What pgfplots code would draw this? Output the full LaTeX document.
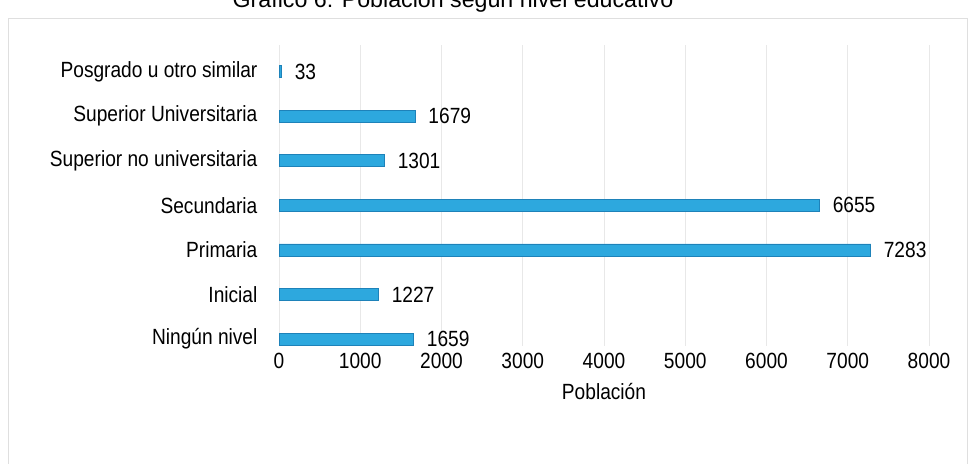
\documentclass[border=0pt]{standalone}
\usepackage{fontspec}
\setmainfont{Liberation Sans}
\newfontfamily\narrow[FakeStretch=0.87]{Liberation Sans}
\usepackage{pgfplots}
\pgfplotsset{compat=1.18}
\definecolor{barfill}{RGB}{45,168,222}
\definecolor{baredge}{RGB}{30,130,185}
\begin{document}
\begin{tikzpicture}
\useasboundingbox (0pt,0pt) rectangle (488.5pt,231.5pt);
\draw[gray!25] (4pt,-5pt) rectangle (483.5pt,222.5pt);
\node[anchor=base,font=\fontsize{11.6}{13}\selectfont] at (226.5pt,228pt) {Gráfico 6: Población según nivel educativo};
\begin{axis}[
  at={(139.5pt,58.65pt)}, anchor=south west,
  scale only axis, width=325pt, height=150.35pt,
  xbar, bar width=6pt,
  xmin=0, xmax=8000, ymin=-0.15, ymax=6.6,
  xtick={0,1000,...,8000},
  ytick={0,...,6},
  yticklabels={Ningún nivel,Inicial,Primaria,Secundaria,Superior no universitaria,Superior Universitaria,Posgrado u otro similar},
  /pgf/number format/1000 sep={},
  /pgf/number format/assume math mode=true,
  axis line style={draw=none},
  tick style={draw=none},
  xmajorgrids, grid style={gray!18},
  ticklabel style={font=\narrow\fontsize{11}{13}\selectfont},
  yticklabel style={xshift=-3pt},
  xticklabel style={yshift=0pt},
  xlabel={Población},
  xlabel style={font=\narrow\fontsize{11}{13}\selectfont, yshift=-0.5pt},
  nodes near coords,
  nodes near coords style={font=\narrow\fontsize{11}{13}\selectfont, anchor=west, xshift=3pt, text=black},
]
\addplot[fill=barfill, draw=baredge, line width=0.4pt] coordinates {
  (1659,0) (1227,1) (7283,2) (6655,3) (1301,4) (1679,5) (33,6)
};
\end{axis}
\end{tikzpicture}
\end{document}
